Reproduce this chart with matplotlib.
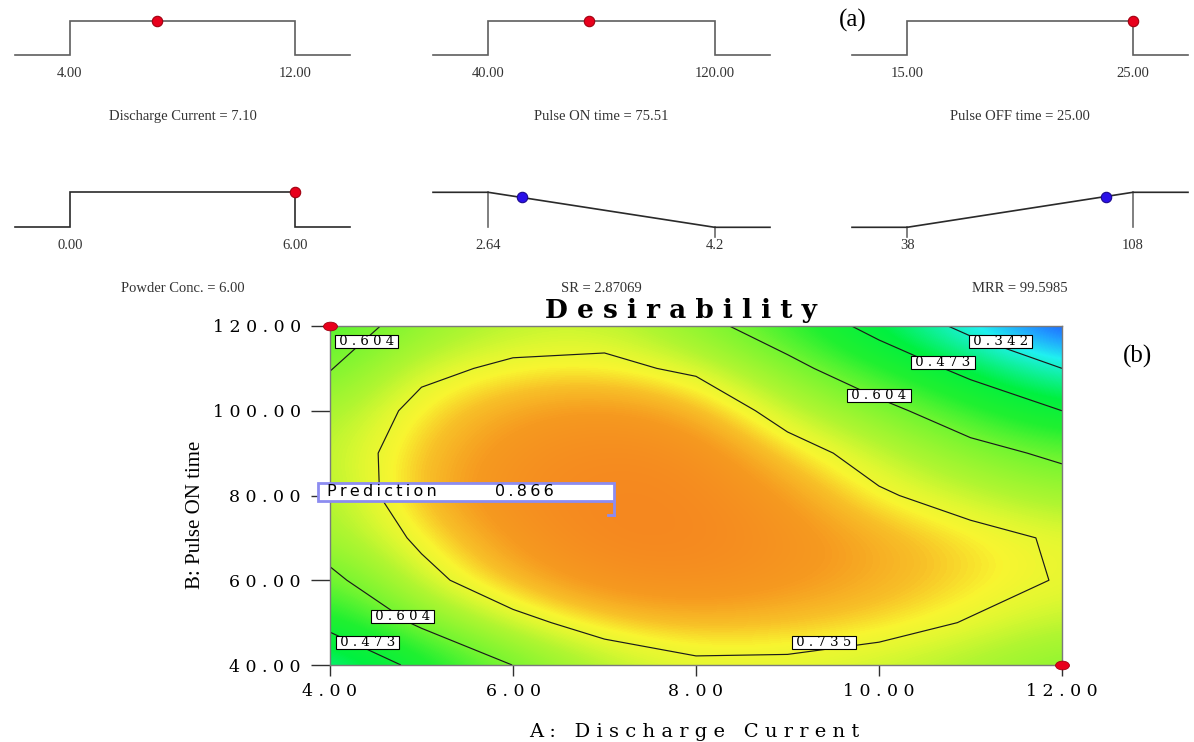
import numpy as np
import matplotlib
matplotlib.use("Agg")
import matplotlib.pyplot as plt
from matplotlib.colors import LinearSegmentedColormap, Normalize
from matplotlib.patches import Rectangle
from matplotlib.path import Path
from matplotlib.transforms import Affine2D

# ---------------- Panel (a): desirability ramps ----------------
ramp_names = ["Discharge Current", "Pulse ON time", "Pulse OFF time",
              "Powder Conc.", "SR", "MRR"]
ramp_low = [4.00, 40.00, 15.00, 0.00, 2.64, 38.0]
ramp_high = [12.00, 120.00, 25.00, 6.00, 4.2, 108.0]
ramp_low_labels = ["4.00", "40.00", "15.00", "0.00", "2.64", "38"]
ramp_high_labels = ["12.00", "120.00", "25.00", "6.00", "4.2", "108"]
ramp_values = [7.10, 75.51, 25.00, 6.00, 2.87069, 99.5985]
ramp_value_labels = ["7.10", "75.51", "25.00", "6.00", "2.87069", "99.5985"]
ramp_goal = ["range", "range", "range", "range", "minimize", "maximize"]

# ---------------- Panel (b): desirability contour ----------------
A_levels = [4, 5, 6, 7, 8, 9, 10, 11, 12]
B_levels = [40, 50, 60, 70, 80, 90, 100, 110, 120]
D_B40 = [0.38, 0.50, 0.605, 0.68, 0.72, 0.72, 0.70, 0.67, 0.63]
D_B50 = [0.50, 0.62, 0.71, 0.77, 0.79, 0.78, 0.765, 0.73, 0.69]
D_B60 = [0.58, 0.71, 0.79, 0.84, 0.85, 0.83, 0.80, 0.765, 0.73]
D_B70 = [0.655, 0.75, 0.83, 0.87, 0.87, 0.84, 0.80, 0.76, 0.725]
D_B80 = [0.67, 0.79, 0.85, 0.87, 0.865, 0.82, 0.745, 0.70, 0.66]
D_B90 = [0.685, 0.78, 0.84, 0.86, 0.85, 0.77, 0.70, 0.635, 0.585]
D_B100 = [0.66, 0.76, 0.81, 0.83, 0.80, 0.70, 0.63, 0.55, 0.473]
D_B110 = [0.60, 0.715, 0.75, 0.755, 0.72, 0.63, 0.54, 0.445, 0.342]
D_B120 = [0.56, 0.64, 0.69, 0.70, 0.635, 0.55, 0.44, 0.31, 0.18]

contour_levels = [0.342, 0.473, 0.604, 0.735]
label_A = [4.40, 11.33, 10.70, 10.00, 4.79, 4.41, 9.40]
label_B = [116.3, 116.3, 111.3, 103.5, 51.4, 45.3, 45.4]
label_level = [0.604, 0.342, 0.473, 0.604, 0.604, 0.473, 0.735]

pred_A, pred_B, pred_value = 7.10, 75.51, 0.866
design_A = [4.0, 12.0]
design_B = [120.0, 40.0]
x_ticks = [4, 6, 8, 10, 12]
y_ticks = [40, 60, 80, 100, 120]

cmap_values = [0.18, 0.26, 0.32, 0.38, 0.45, 0.53, 0.60, 0.68, 0.72, 0.75,
               0.78, 0.82, 0.87]
cmap_colors = ["#2030ff", "#20a0ff", "#20f0f0", "#10f0a0", "#00f040", "#20f030",
               "#70f530", "#b0f530", "#e0f830", "#f8f530", "#f8c228", "#f69a20",
               "#f5881f"]

W, H = 1194, 742
fig = plt.figure(figsize=(W / 100, H / 100), dpi=100)
fig.patch.set_facecolor("white")

SERIF = ["Liberation Serif", "DejaVu Serif"]
WIDE = ["DejaVu Serif", "Liberation Serif"]
SANS = ["DejaVu Sans"]


def fx(px):
    return px / W


def fy(py):
    return 1 - py / H


def spaced(s, sep="\u2009"):
    return sep.join(s)


# ---- ramps
col_x = [(15, 350), (433, 770), (852, 1188)]
row_y = [(20.5, 55.3), (192.3, 227.3)]
for i in range(6):
    r, c = divmod(i, 3)
    x0, x1 = col_x[c]
    yt, yb = row_y[r]
    ax = fig.add_axes([fx(x0), fy(yb), (x1 - x0) / W, (yb - yt) / H])
    lo, hi, v = ramp_low[i], ramp_high[i], ramp_values[i]
    R = hi - lo
    xmin, xmax = lo - 0.244 * R, hi + 0.244 * R
    ax.set_xlim(xmin, xmax)
    ax.set_ylim(0, 1)
    ax.axis("off")
    lc = "#5e5e5e" if r == 0 else "#2a2a2a"
    goal = ramp_goal[i]
    if goal == "range":
        xs, ys = [xmin, lo, lo, hi, hi, xmax], [0, 0, 1, 1, 0, 0]
        vy = 1.0
        dot_fc, dot_ec = "#e8001c", "#a00010"
    elif goal == "minimize":
        xs, ys = [xmin, lo, hi, xmax], [1, 1, 0, 0]
        vy = 1 - (v - lo) / R
        ax.plot([lo, lo], [1, 0], color="#6a6a6a", lw=1.2, clip_on=False)
        ax.plot([hi, hi], [0, -0.28], color="#6a6a6a", lw=1.2, clip_on=False)
        dot_fc, dot_ec = "#2a10e8", "#1a0890"
    else:
        xs, ys = [xmin, lo, hi, xmax], [0, 0, 1, 1]
        vy = (v - lo) / R
        ax.plot([lo, lo], [0, -0.28], color="#6a6a6a", lw=1.2, clip_on=False)
        ax.plot([hi, hi], [1, 0], color="#6a6a6a", lw=1.2, clip_on=False)
        dot_fc, dot_ec = "#2a10e8", "#1a0890"
    ax.plot(xs, ys, color=lc, lw=1.2, clip_on=False, solid_joinstyle="miter")
    ax.plot([v], [vy], "o", ms=7.5, mfc=dot_fc, mec=dot_ec, mew=0.8,
            clip_on=False, zorder=5)
    ax.text(lo, -0.53, ramp_low_labels[i], ha="center", va="center",
            fontsize=10.5, family=SERIF, color="#333333")
    ax.text(hi, -0.53, ramp_high_labels[i], ha="center", va="center",
            fontsize=10.5, family=SERIF, color="#333333")
    ax.text(0.5, -1.75, f"{ramp_names[i]} = {ramp_value_labels[i]}",
            transform=ax.transAxes, ha="center", va="center",
            fontsize=10.5, family=SERIF, color="#333333")

fig.text(fx(853), fy(20), "(a)", ha="center", va="center", fontsize=18,
         family=SERIF)
fig.text(fx(1137), fy(356), "(b)", ha="center", va="center", fontsize=18,
         family=SERIF)

# ---- contour plot
ax = fig.add_axes([fx(330), fy(665), (1062 - 330) / W, (665 - 326) / H])
D = np.array([D_B40, D_B50, D_B60, D_B70, D_B80, D_B90, D_B100, D_B110, D_B120])
vmin, vmax = cmap_values[0], cmap_values[-1]
cmap = LinearSegmentedColormap.from_list(
    "desir", [((cv - vmin) / (vmax - vmin), cc) for cv, cc in zip(cmap_values, cmap_colors)])
norm = Normalize(vmin=vmin, vmax=vmax)
dA = (A_levels[1] - A_levels[0]) / 2
dB = (B_levels[1] - B_levels[0]) / 2
ax.imshow(D, extent=[A_levels[0] - dA, A_levels[-1] + dA, B_levels[0] - dB, B_levels[-1] + dB],
          origin="lower", aspect="auto", cmap=cmap, norm=norm, interpolation="bicubic")
ax.contour(A_levels, B_levels, D, levels=contour_levels, colors="#1a1a1a",
           linewidths=0.85)
ax.set_xlim(A_levels[0], A_levels[-1])
ax.set_ylim(B_levels[0], B_levels[-1])

for la, lb, lv in zip(label_A, label_B, label_level):
    ax.text(la, lb, " " + spaced(f"{lv:.3f}", " ") + " ", ha="center", va="center",
            fontsize=9.5, family=WIDE, color="black", zorder=7,
            bbox=dict(boxstyle="square,pad=0.0", fc="white", ec="black", lw=0.8))

ell = Path.unit_circle().transformed(Affine2D().scale(1.6, 1.0))
ax.plot(design_A, design_B, linestyle="none", marker=ell, ms=10,
        mfc="#e8001c", mec="#a00010", mew=0.6, clip_on=False, zorder=8)

# prediction flag
box_left = 3.87
box_bot = pred_B + 3.3
box_h = 4.2
ax.add_patch(Rectangle((box_left, box_bot), pred_A - box_left, box_h,
                       fc="white", ec="#8c8cf0", lw=2, clip_on=False, zorder=9))
ax.plot([pred_A, pred_A], [box_bot, pred_B], color="#8c8cf0", lw=2,
        clip_on=False, zorder=9)
ax.plot([pred_A - 0.06, pred_A], [pred_B, pred_B], color="#8c8cf0", lw=2,
        clip_on=False, zorder=9)
ax.text(box_left + 0.1, box_bot + box_h / 2, spaced("Prediction"), ha="left",
        va="center", fontsize=11.5, family=SANS, zorder=10)
ax.text(5.80, box_bot + box_h / 2, spaced(f"{pred_value:.3f}"), ha="left",
        va="center", fontsize=11.5, family=SANS, zorder=10)

ax.set_xticks(x_ticks)
ax.set_xticklabels([spaced(f"{t:.2f}", " ") for t in x_ticks], family=WIDE, fontsize=12.5)
ax.set_yticks(y_ticks)
ax.set_yticklabels([spaced(f"{t:.2f}", " ") for t in y_ticks], family=WIDE, fontsize=12.5)
ax.tick_params(axis="x", length=8, width=1, color="#303030", pad=5)
ax.tick_params(axis="y", length=14, width=1, color="#303030", pad=7)
for s in ax.spines.values():
    s.set_color("#7a7a7a")
    s.set_linewidth(1)

fig.text(fx(681), fy(311), spaced("Desirability", " "), ha="center", va="center",
         fontsize=19, weight="bold", family=WIDE)
fig.text(fx(694), fy(732), spaced("A: Discharge Current", " "), ha="center",
         va="center", fontsize=14, family=WIDE)
fig.text(fx(196), fy(515), "B: Pulse ON time", ha="center", va="center",
         rotation=90, fontsize=15, family=SERIF)

fig.savefig("out.png", dpi=100, facecolor="white")
